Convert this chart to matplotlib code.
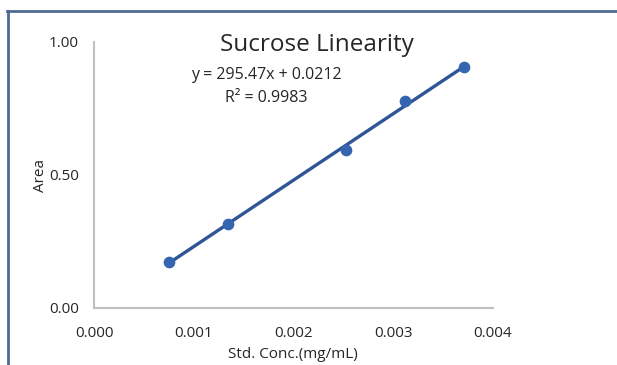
import matplotlib
matplotlib.use("Agg")
import matplotlib.pyplot as plt
from matplotlib.lines import Line2D
import numpy as np

# data
conc = [0.0005, 0.001, 0.002, 0.0025, 0.003]
area = [0.173, 0.316, 0.594, 0.778, 0.906]
slope = 295.47
intercept = 0.0212
r2 = 0.9983
x_ticks = [0.000, 0.001, 0.002, 0.003, 0.004]
y_ticks = [0.00, 0.50, 1.00]

plt.rcParams['font.family'] = ['Open Sans', 'DejaVu Sans']
text_col = '#262626'
line_col = '#2F5597'
marker_col = '#3565B0'

fig = plt.figure(figsize=(6.17, 3.65), dpi=100)
ax = fig.add_axes([0.1524, 0.1562, 0.6467, 0.7288])

# trendline + points
xs = np.array([conc[0], conc[-1]])
ax.plot(xs, slope * xs + intercept, color=line_col, lw=2.4, zorder=2)
ax.scatter(conc, area, s=55, color=marker_col, zorder=3)

# the picture's points sit offset from its tick labels, so the labels
# live on a secondary axis mapped onto the plotted scale
ax.set_xlim(-0.0001356, 0.0032458)
ax.set_ylim(0, 1)
to_lab = lambda d: (16 + 118000 * d) / 99750
to_dat = lambda l: (99750 * l - 16) / 118000
sec = ax.secondary_xaxis('bottom', functions=(to_lab, to_dat))
sec.set_xticks(x_ticks)
sec.set_xticklabels([f"{v:.3f}" for v in x_ticks])
sec.tick_params(length=0, pad=13, labelsize=11, labelcolor=text_col)
sec.spines['bottom'].set_visible(False)
ax.set_xticks([])

ax.set_yticks(y_ticks)
ax.set_yticklabels([f"{v:.2f}" for v in y_ticks])
ax.tick_params(axis='y', length=0, pad=11, labelsize=11, labelcolor=text_col)

for s in ['top', 'right']:
    ax.spines[s].set_visible(False)
for s in ['left', 'bottom']:
    ax.spines[s].set_color('#BFBFBF')
    ax.spines[s].set_linewidth(1.5)

fig.text(0.475, 0.030, "Std. Conc.(mg/mL)", ha='center', va='center', fontsize=11, color=text_col)
fig.text(0.066, 0.52, "Area", ha='center', va='center', rotation=90, fontsize=11, color=text_col)

fig.text(0.513, 0.877, "Sucrose Linearity", ha='center', va='center', fontsize=17.5, color=text_col)
fig.text(0.431, 0.795, f"y = {slope}x + {intercept}", ha='center', va='center', fontsize=11.5, color=text_col)
fig.text(0.431, 0.731, f"R² = {r2}", ha='center', va='center', fontsize=11.5, color=text_col)

# chart frame (cropped at right and bottom)
frame_col = '#4F6A93'
fig.add_artist(Line2D([7.5 / 617, 7.5 / 617], [0, 1 - 10.5 / 365], color=frame_col, lw=2))
fig.add_artist(Line2D([7 / 617, 1], [1 - 10.5 / 365, 1 - 10.5 / 365], color=frame_col, lw=2))

fig.savefig("out.png", dpi=100)
